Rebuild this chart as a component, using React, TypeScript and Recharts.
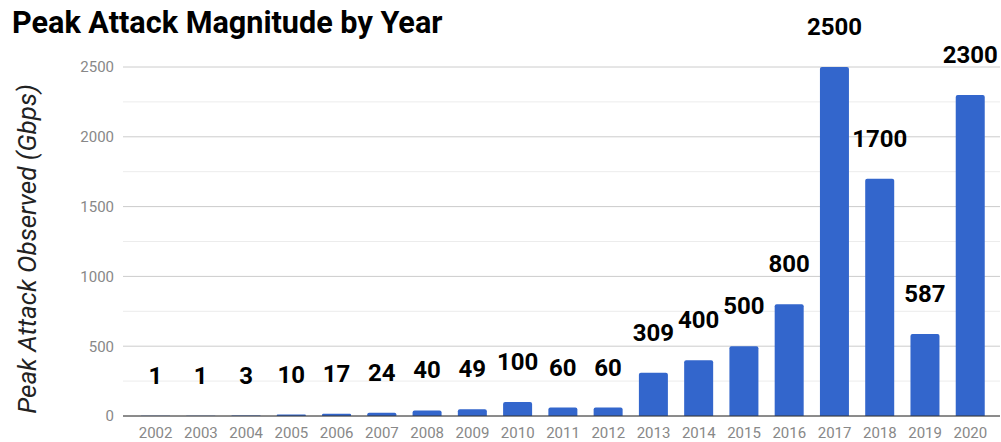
import { Bar, BarChart, CartesianGrid, LabelList, XAxis, YAxis } from "recharts";

const years = ["2002", "2003", "2004", "2005", "2006", "2007", "2008", "2009", "2010", "2011", "2012", "2013", "2014", "2015", "2016", "2017", "2018", "2019", "2020"];
const peakGbps = [1, 1, 3, 10, 17, 24, 40, 49, 100, 60, 60, 309, 400, 500, 800, 2500, 1700, 587, 2300];
const majorTicks = [0, 500, 1000, 1500, 2000, 2500];
const minorTicks = [250, 750, 1250, 1750, 2250];

const data = years.map((name, i) => ({ name, value: peakGbps[i] }));

const font = "Roboto, 'Noto Sans', sans-serif";

function YTitle() {
  return (
    <text
      x={36}
      y={249}
      transform="rotate(-90, 36, 249)"
      textAnchor="middle"
      fontSize={26}
      fontStyle="italic"
      fill="#222"
      fontFamily={font}
    >
      Peak Attack Observed (Gbps)
    </text>
  );
}

export default function App() {
  return (
    <div style={{ position: "absolute", left: 0, top: 0, width: 1001, height: 442, background: "#fff", fontFamily: font }}>
      <div style={{ position: "absolute", left: 12, top: 5, fontSize: 30.6, fontWeight: 700, color: "#000", lineHeight: "36px" }}>
        Peak Attack Magnitude by Year
      </div>
      <BarChart width={1001} height={442} data={data} margin={{ top: 67, right: 1, left: 0, bottom: 0 }}>
        <CartesianGrid vertical={false} horizontalValues={minorTicks} stroke="#ececec" />
        <CartesianGrid vertical={false} horizontalValues={majorTicks} stroke="#cccccc" />
        <XAxis
          dataKey="name"
          height={26}
          padding={{ left: 10, right: 7 }}
          tickLine={false}
          tickSize={0}
          tickMargin={11}
          axisLine={{ stroke: "#333" }}
          tick={{ fontSize: 15, fill: "#888", fontFamily: font }}
          interval={0}
        />
        <YAxis
          width={123}
          domain={[0, 2500]}
          ticks={majorTicks}
          axisLine={false}
          tickLine={false}
          tickSize={0}
          tickMargin={9}
          tick={{ fontSize: 15, fill: "#888", fontFamily: font }}
          label={{ content: () => <YTitle /> }}
        />
        <Bar dataKey="value" fill="#3366cc" barSize={29} radius={[2, 2, 0, 0]} isAnimationActive={false}>
          <LabelList dataKey="value" position="top" offset={32} fill="#000" fontSize={24} fontWeight={700} fontFamily={font} />
        </Bar>
      </BarChart>
    </div>
  );
}
